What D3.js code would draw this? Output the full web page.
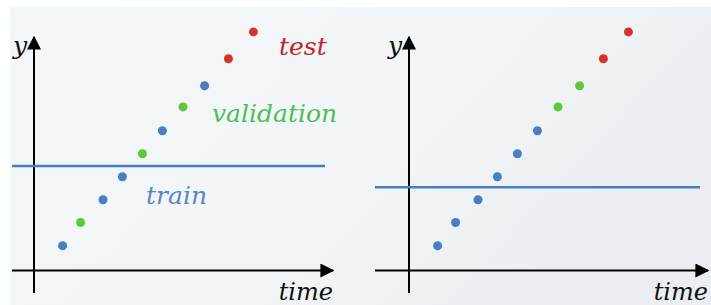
<!DOCTYPE html>
<html>
<head>
<meta charset="utf-8">
<script src="https://cdn.jsdelivr.net/npm/d3@7"></script>
<style>
  body { margin: 0; background: #fff; }
  text { font-family: "DejaVu Serif", serif; font-style: italic; }
</style>
</head>
<body>
<div id="chart"></div>
<script>
var svgWidth = 711;
var svgHeight = 305;

// data (same points in both panels)
var timeValues = [1.43, 2.33, 3.45, 4.42, 5.42, 6.42, 7.45, 8.53, 9.72, 10.97];
var yValues = [1.24, 2.4, 3.54, 4.69, 5.84, 6.99, 8.18, 9.24, 10.59, 11.93];
var leftSplit = ["train", "validation", "train", "train", "validation", "train", "validation", "train", "test", "test"];
var rightSplit = ["train", "train", "train", "train", "train", "train", "validation", "validation", "test", "test"];
var trainLevels = [5.22, 4.16];
var labels = ["train", "validation", "test"];

var colors = { train: "#4a7ec0", validation: "#5cc83a", test: "#d8322c" };
var textColors = { train: "#5a86c2", validation: "#4cbf55", test: "#c2262a" };

var svg = d3.select("#chart")
  .append("svg")
  .attr("width", svgWidth)
  .attr("height", svgHeight);

// background
var bg = svg.append("defs").append("linearGradient")
  .attr("id", "bg")
  .attr("x1", "0").attr("y1", "0").attr("x2", "1").attr("y2", "0.4");
bg.append("stop").attr("offset", "0").attr("stop-color", "#f4f7f8");
bg.append("stop").attr("offset", "0.65").attr("stop-color", "#f2f5f7");
bg.append("stop").attr("offset", "1").attr("stop-color", "#eaeef2");

svg.append("rect")
  .attr("x", 10).attr("y", 7)
  .attr("width", svgWidth - 10).attr("height", svgHeight - 7)
  .attr("fill", "url(#bg)");

svg.append("defs").append("marker")
  .attr("id", "arrow")
  .attr("viewBox", "0 0 10 10")
  .attr("refX", 9).attr("refY", 5)
  .attr("markerWidth", 7).attr("markerHeight", 7)
  .attr("markerUnits", "strokeWidth")
  .attr("orient", "auto")
  .append("path")
  .attr("d", "M0,0 L10,5 L0,10 Z")
  .attr("fill", "#000");

var panels = [
  { originX: 34, split: leftSplit, train: trainLevels[0], left: 12, lineEnd: 325, axisEnd: 333 },
  { originX: 409, split: rightSplit, train: trainLevels[1], left: 375, lineEnd: 700, axisEnd: 708 }
];

var originY = 270.5;

panels.forEach(function(p) {
  var g = svg.append("g");

  var xScale = d3.scaleLinear()
    .domain([0, 15])
    .range([p.originX, p.originX + 300]);

  var yScale = d3.scaleLinear()
    .domain([0, 12])
    .range([originY, originY - 240]);

  // axes
  g.append("line")
    .attr("x1", p.left).attr("y1", originY)
    .attr("x2", p.axisEnd).attr("y2", originY)
    .attr("stroke", "#000").attr("stroke-width", 2)
    .attr("marker-end", "url(#arrow)");

  g.append("line")
    .attr("x1", p.originX).attr("y1", 293)
    .attr("x2", p.originX).attr("y2", 37)
    .attr("stroke", "#000").attr("stroke-width", 2)
    .attr("marker-end", "url(#arrow)");

  // training level line
  g.append("line")
    .attr("x1", p.left).attr("y1", yScale(p.train))
    .attr("x2", p.lineEnd).attr("y2", yScale(p.train))
    .attr("stroke", "#4a7ec0").attr("stroke-width", 2.5);

  // points
  g.selectAll("circle")
    .data(timeValues)
    .enter()
    .append("circle")
    .attr("cx", d => xScale(d))
    .attr("cy", (d, i) => yScale(yValues[i]))
    .attr("r", 4.5)
    .attr("fill", (d, i) => colors[p.split[i]]);

  // axis labels
  g.append("text")
    .attr("x", p.originX - 7)
    .attr("y", 54)
    .attr("text-anchor", "end")
    .attr("font-size", "25px")
    .attr("fill", "#111")
    .text("y");

  g.append("text")
    .attr("x", p.axisEnd)
    .attr("y", 300)
    .attr("text-anchor", "end")
    .attr("font-size", "24px")
    .attr("fill", "#111")
    .text("time");
});

// split labels on the left panel
var labelPos = { train: [146, 204], validation: [212, 122], test: [279, 55] };
svg.selectAll(".split-label")
  .data(labels)
  .enter()
  .append("text")
  .attr("class", "split-label")
  .attr("x", d => labelPos[d][0])
  .attr("y", d => labelPos[d][1])
  .attr("font-size", "25px")
  .attr("fill", d => textColors[d])
  .text(d => d);
</script>
</body>
</html>
